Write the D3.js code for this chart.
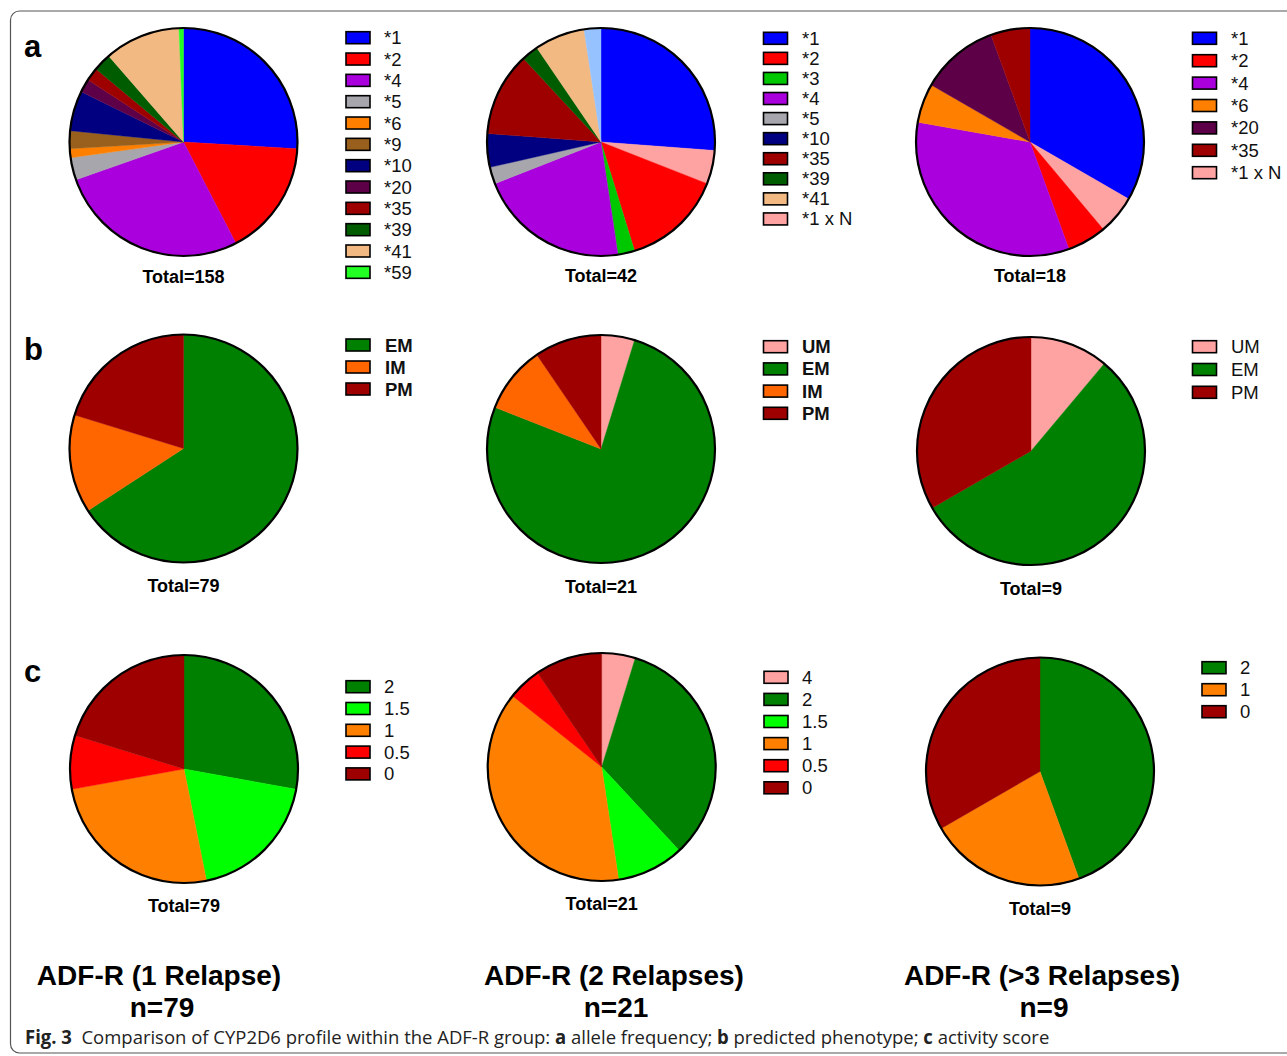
<!DOCTYPE html>
<html>
<head>
<meta charset="utf-8">
<script src="https://cdn.jsdelivr.net/npm/d3@7"></script>
<style>
  html, body { margin: 0; padding: 0; background: #fff; }
  svg { display: block; }
</style>
</head>
<body>
<svg id="fig" width="1287" height="1056" font-family="'Liberation Sans', Arimo, Arial, Helvetica, sans-serif"></svg>
<script>
// ---- Data: CYP2D6 profile of the ADF-R subgroups ----
const groupNames = ["ADF-R (1 Relapse)", "ADF-R (2 Relapses)", "ADF-R (>3 Relapses)"];
const groupN = [79, 21, 9];

// a) allele frequency (slice order, clockwise from 12 o'clock)
const alleleSlices1 = ["*1", "*2", "*4", "*5", "*6", "*9", "*10", "*20", "*35", "*39", "*41", "*59"];
const alleleCounts1 = [41, 26, 43, 5, 2, 4, 9, 3, 3, 4, 17, 1];
const alleleLegend1 = ["*1", "*2", "*4", "*5", "*6", "*9", "*10", "*20", "*35", "*39", "*41", "*59"];

const alleleSlices2 = ["*1", "*1 x N", "*2", "*3", "*4", "*5", "*10", "*35", "*39", "*41", "unlisted"];
const alleleCounts2 = [11, 2, 6, 1, 9, 1, 2, 5, 1, 3, 1];
const alleleLegend2 = ["*1", "*2", "*3", "*4", "*5", "*10", "*35", "*39", "*41", "*1 x N"];

const alleleSlices3 = ["*1", "*1 x N", "*2", "*4", "*6", "*20", "*35"];
const alleleCounts3 = [6, 1, 1, 6, 1, 2, 1];
const alleleLegend3 = ["*1", "*2", "*4", "*6", "*20", "*35", "*1 x N"];

// b) predicted phenotype
const phenoSlices1 = ["EM", "IM", "PM"];
const phenoCounts1 = [52, 11, 16];
const phenoSlices2 = ["UM", "EM", "IM", "PM"];
const phenoCounts2 = [1, 16, 2, 2];
const phenoSlices3 = ["UM", "EM", "PM"];
const phenoCounts3 = [1, 5, 3];

// c) activity score
const scoreSlices1 = ["2", "1.5", "1", "0.5", "0"];
const scoreCounts1 = [22, 15, 20, 6, 16];
const scoreSlices2 = ["4", "2", "1.5", "1", "0.5", "0"];
const scoreCounts2 = [1, 7, 2, 8, 1, 2];
const scoreSlices3 = ["2", "1", "0"];
const scoreCounts3 = [4, 2, 3];

// ---- Colour palettes ----
const alleleKeys = ["*1", "*2", "*3", "*4", "*5", "*6", "*9", "*10", "*20", "*35", "*39", "*41", "*59", "*1 x N", "unlisted"];
const alleleFill = ["#0000ff", "#ff0000", "#00c800", "#aa00dd", "#a6a6ac", "#ff8000", "#98601c", "#000080",
                    "#5e0048", "#9e0000", "#005c00", "#f2b983", "#22ff22", "#ffa2a2", "#96c3ff"];
const phenoKeys = ["UM", "EM", "IM", "PM"];
const phenoFill = ["#ffa2a2", "#008000", "#ff6600", "#9e0000"];
const scoreKeys = ["4", "2", "1.5", "1", "0.5", "0"];
const scoreFill = ["#ffa2a2", "#008000", "#00ff00", "#ff8000", "#ff0000", "#9e0000"];

const alleleColor = d3.scaleOrdinal(alleleKeys, alleleFill);
const phenoColor = d3.scaleOrdinal(phenoKeys, phenoFill);
const scoreColor = d3.scaleOrdinal(scoreKeys, scoreFill);

// ---- Panel layout ----
const R = 114;
const panels = [
  { slices: alleleSlices1, counts: alleleCounts1, legend: alleleLegend1, color: alleleColor,
    cx: 183.5, cy: 142, totalY: 283, lgX: 346, lgY: 37.7, lgStep: 21.33, txtX: 384, bold: false },
  { slices: alleleSlices2, counts: alleleCounts2, legend: alleleLegend2, color: alleleColor,
    cx: 601, cy: 142, totalY: 282, lgX: 763.5, lgY: 38.3, lgStep: 20.07, txtX: 802, bold: false },
  { slices: alleleSlices3, counts: alleleCounts3, legend: alleleLegend3, color: alleleColor,
    cx: 1030, cy: 142, totalY: 282, lgX: 1192.5, lgY: 38.3, lgStep: 22.4, txtX: 1231, bold: false },

  { slices: phenoSlices1, counts: phenoCounts1, legend: phenoSlices1, color: phenoColor,
    cx: 183.5, cy: 448.5, totalY: 592, lgX: 346, lgY: 345, lgStep: 22, txtX: 385, bold: true },
  { slices: phenoSlices2, counts: phenoCounts2, legend: phenoSlices2, color: phenoColor,
    cx: 601, cy: 449, totalY: 593, lgX: 763.5, lgY: 346.7, lgStep: 22.2, txtX: 802, bold: true },
  { slices: phenoSlices3, counts: phenoCounts3, legend: phenoSlices3, color: phenoColor,
    cx: 1031, cy: 451, totalY: 595, lgX: 1192.5, lgY: 346.7, lgStep: 22.8, txtX: 1231, bold: false },

  { slices: scoreSlices1, counts: scoreCounts1, legend: scoreSlices1, color: scoreColor,
    cx: 184, cy: 769, totalY: 912, lgX: 346, lgY: 686.7, lgStep: 21.8, txtX: 384, bold: false },
  { slices: scoreSlices2, counts: scoreCounts2, legend: scoreSlices2, color: scoreColor,
    cx: 601.7, cy: 767, totalY: 910, lgX: 764, lgY: 677.3, lgStep: 22.1, txtX: 802, bold: false },
  { slices: scoreSlices3, counts: scoreCounts3, legend: scoreSlices3, color: scoreColor,
    cx: 1040, cy: 771.5, totalY: 915, lgX: 1202, lgY: 667.7, lgStep: 22, txtX: 1240, bold: false }
];

const svg = d3.select("#fig");

// rounded frame of the figure
svg.append("rect")
  .attr("x", 10.5).attr("y", 11).attr("width", 1320).attr("height", 1042)
  .attr("rx", 9).attr("ry", 9)
  .attr("fill", "none").attr("stroke", "#555").attr("stroke-width", 1.2);

const pie = d3.pie().sort(null).value(d => d.v);
const arc = d3.arc().innerRadius(0).outerRadius(R);

panels.forEach(p => {
  const g = svg.append("g").attr("transform", `translate(${p.cx},${p.cy})`);
  const data = p.slices.map((k, i) => ({ k, v: p.counts[i] }));
  g.selectAll("path.slice")
    .data(pie(data))
    .join("path")
    .attr("class", "slice")
    .attr("d", arc)
    .attr("fill", d => p.color(d.data.k))
    .attr("stroke", d => p.color(d.data.k))
    .attr("stroke-width", 0.4);
  g.append("circle")
    .attr("r", R)
    .attr("fill", "none")
    .attr("stroke", "#000")
    .attr("stroke-width", 2.2);

  svg.append("text")
    .attr("x", p.cx).attr("y", p.totalY)
    .attr("text-anchor", "middle")
    .attr("font-size", 18).attr("font-weight", "bold")
    .text("Total=" + d3.sum(p.counts));

  const lg = svg.append("g");
  const rows = lg.selectAll("g").data(p.legend).join("g")
    .attr("transform", (d, i) => `translate(0,${p.lgY + i * p.lgStep})`);
  rows.append("rect")
    .attr("x", p.lgX).attr("y", -6).attr("width", 24).attr("height", 12)
    .attr("fill", d => p.color(d))
    .attr("stroke", "#000").attr("stroke-width", 1.6);
  rows.append("text")
    .attr("x", p.txtX).attr("y", 6.5)
    .attr("font-size", 18.5)
    .attr("font-weight", p.bold ? "bold" : "normal")
    .attr("fill", "#111")
    .text(d => d);
});

// panel letters
const panelLetters = ["a", "b", "c"];
const letterY = [57, 360, 682];
svg.selectAll("text.letter").data(panelLetters).join("text")
  .attr("class", "letter")
  .attr("x", 24).attr("y", (d, i) => letterY[i])
  .attr("font-size", 31).attr("font-weight", "bold")
  .text(d => d);

// group captions under each column
const colX = [159, 614, 1042];
const nX = [162, 616, 1044];
groupNames.forEach((name, i) => {
  svg.append("text")
    .attr("x", colX[i]).attr("y", 985)
    .attr("text-anchor", "middle")
    .attr("font-size", 28).attr("font-weight", "bold")
    .text(name);
  svg.append("text")
    .attr("x", nX[i]).attr("y", 1017)
    .attr("text-anchor", "middle")
    .attr("font-size", 28).attr("font-weight", "bold")
    .text("n=" + groupN[i]);
});

// figure caption, condensed to the column width
const caption = svg.append("text")
  .attr("x", 0).attr("y", 0)
  .attr("font-size", 19)
  .attr("font-family", "'Open Sans', 'Noto Sans', sans-serif")
  .attr("fill", "#222");
const parts = [
  ["Fig. 3", true], ["\u00a0\u00a0Comparison of CYP2D6 profile within the ADF-R group: ", false],
  ["a", true], [" allele frequency; ", false], ["b", true], [" predicted phenotype; ", false],
  ["c", true], [" activity score", false]
];
parts.forEach(([t, b]) => caption.append("tspan").attr("font-weight", b ? "bold" : "normal").text(t));
const capW = caption.node().getComputedTextLength();
const sx = (1050 - 25) / capW;
caption.attr("transform", `translate(25,1044) scale(${sx},1)`);
</script>
</body>
</html>
